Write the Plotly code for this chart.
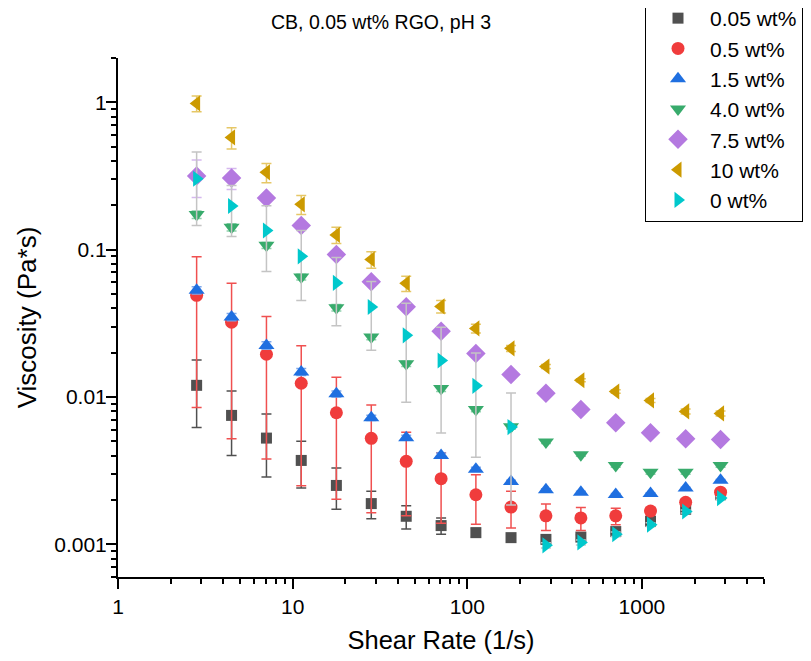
import plotly.graph_objects as go
import numpy as np

shear_rate = [2.82, 4.47, 7.08, 11.2, 17.8, 28.2, 44.7, 70.8, 112, 178, 282, 447, 708, 1120, 1780, 2820]

labels = ["0.05 wt%", "0.5 wt%", "1.5 wt%", "4.0 wt%", "7.5 wt%", "10 wt%", "0 wt%"]

visc_005 = [0.0120, 0.00750, 0.00526, 0.00371, 0.00251, 0.00189, 0.00155, 0.00134, 0.00120, 0.00111, 0.00108, 0.00112, 0.00122, 0.00143, 0.00173, 0.00217]
err_005 = [0.0058, 0.0035, 0.0024, 0.0013, 0.00078, 0.0004, 0.00028, 0.00017, 0.00008, 0.00005, 0.00004, 0.00004, 0.00004, 0.00004, 0.00004, 0.00004]

visc_05 = [0.0490, 0.0322, 0.0195, 0.0124, 0.00782, 0.00524, 0.00366, 0.00279, 0.00217, 0.00179, 0.00156, 0.00151, 0.00156, 0.00168, 0.00193, 0.00226]
err_05 = [0.0405, 0.027, 0.0157, 0.0099, 0.0058, 0.0036, 0.0021, 0.0014, 0.0008, 0.0005, 0.00032, 0.00027, 0.0002, 0.0001, 0.0001, 0.0001]

visc_15 = [0.0530, 0.0349, 0.0224, 0.0148, 0.0105, 0.00723, 0.00529, 0.00401, 0.00323, 0.00267, 0.00235, 0.00226, 0.00218, 0.00221, 0.00241, 0.00272]
err_15 = [0.003, 0.002, 0.0013, 0.0008, 0.0005, 0.0003, 0.0002, 0.00015, 0.0001, 0.00005, 0.00003, 0.00003, 0.00003, 0.00003, 0.00003, 0.00003]

visc_40 = [0.173, 0.142, 0.107, 0.0652, 0.0404, 0.0255, 0.0168, 0.0114, 0.00824, 0.00627, 0.00494, 0.00406, 0.00343, 0.00309, 0.00309, 0.00343]
err_40 = [0.01, 0.008, 0.005, 0.003, 0.002, 0.001, 0.0007, 0.0005, 0.0003, 0.0002, 0.0001, 0.0001, 0.0001, 0.0001, 0.0001, 0.0001]

visc_75 = [0.316, 0.306, 0.224, 0.146, 0.0929, 0.0605, 0.0409, 0.0279, 0.0197, 0.0142, 0.0106, 0.00824, 0.00669, 0.00572, 0.00521, 0.00515]
err_75 = [0.09, 0.05, 0.012, 0.006, 0.004, 0.003, 0.002, 0.001, 0.0007, 0.0004, 0.0002, 0.0001, 0.0001, 0.0001, 0.0001, 0.0001]

visc_10 = [0.984, 0.578, 0.335, 0.203, 0.126, 0.0859, 0.0591, 0.0412, 0.0292, 0.0214, 0.0161, 0.0130, 0.0109, 0.00948, 0.00798, 0.00774]
err_10 = [0.12, 0.095, 0.05, 0.03, 0.016, 0.011, 0.007, 0.004, 0.002, 0.001, 0.0005, 0.0003, 0.0003, 0.0003, 0.0003, 0.0003]

visc_0 = [0.303, 0.198, 0.135, 0.0901, 0.0595, 0.0408, 0.0262, 0.0177, 0.0119, 0.00625, 0.000984, 0.00103, 0.00117, 0.00136, 0.00167, 0.00206]
err_0 = [0.157, 0.075, 0.064, 0.045, 0.029, 0.020, 0.017, 0.012, 0.008, 0.0044, 0.00004, 0.00004, 0.00004, 0.00004, 0.00004, 0.00004]

x_ticks = [1, 10, 100, 1000]
x_ticktext = ["1", "10", "100", "1000"]
y_ticks = [0.001, 0.01, 0.1, 1]
y_ticktext = ["0.001", "0.01", "0.1", "1"]

series = [
    (labels[0], visc_005, err_005, "#505050", "square", "#505050", 11),
    (labels[1], visc_05, err_05, "#f03c3c", "circle", "#f05050", 13),
    (labels[2], visc_15, err_15, "#1f6fe0", "triangle-up", "#7fa8ea", 14),
    (labels[3], visc_40, err_40, "#38ab6c", "triangle-down", "#8fd0ac", 14),
    (labels[4], visc_75, err_75, "#b479e0", "diamond", "#d5b8ee", 15),
    (labels[5], visc_10, err_10, "#cc9a00", "triangle-left", "#e6c766", 14),
    (labels[6], visc_0, err_0, "#00c8cc", "triangle-right", "#c4c4c4", 14),
]

fig = go.Figure()
for i, (name, y, e, col, sym, ecol, sz) in enumerate(series):
    fig.add_trace(go.Scatter(
        x=shear_rate, y=y, name=name, mode="markers",
        marker=dict(symbol=sym, color=col, size=sz, line=dict(width=0)),
        error_y=dict(type="data", array=e, symmetric=True, color=ecol, thickness=1.5, width=5),
    ))

def minor_vals(lo_exp, hi_exp, lo, hi):
    vals = []
    for d in range(lo_exp, hi_exp + 1):
        for m in range(2, 10):
            v = m * 10.0 ** d
            if lo <= v <= hi:
                vals.append(v)
    return vals

x_lo, x_hi = 1, 5000
y_lo, y_hi = 0.0006, 2

W, H = 803, 653  # page body has an 8px margin
ML, MR, MT, MB = 110, 47, 50, 84
PW, PH = W - ML - MR, H - MT - MB

fig.update_layout(
    width=W, height=H,
    paper_bgcolor="white", plot_bgcolor="white",
    margin=dict(l=ML, r=MR, t=MT, b=MB, autoexpand=False),
    font=dict(family="Liberation Sans, Arial, sans-serif", color="black"),
    title=dict(text="CB, 0.05 wt% RGO, pH 3", x=373/W, xref="container", xanchor="center",
               y=1 - 14/H, yref="container", yanchor="middle", font=dict(size=19.5)),
    showlegend=True,
    legend=dict(x=(637 - ML)/PW, y=1 + (MT + 11)/PH, xref="paper", yref="paper",
                xanchor="left", yanchor="top",
                bordercolor="black", borderwidth=1, bgcolor="white",
                font=dict(size=21), tracegroupgap=0, itemwidth=54),
    xaxis=dict(type="log", range=[np.log10(x_lo), np.log10(x_hi)], automargin=False,
               showgrid=False, zeroline=False, showline=True, linecolor="black", linewidth=2,
               ticks="outside", ticklen=10, tickwidth=2, tickcolor="black",
               tickvals=x_ticks, ticktext=x_ticktext, tickfont=dict(size=21),
               minor=dict(ticks="outside", ticklen=5, tickwidth=1.5, tickcolor="black",
                          tickvals=minor_vals(0, 3, x_lo, x_hi), showgrid=False),
               title=dict(text="Shear Rate (1/s)", font=dict(size=25.5), standoff=14)),
    yaxis=dict(type="log", range=[np.log10(y_lo), np.log10(y_hi)], automargin=False,
               showgrid=False, zeroline=False, showline=True, linecolor="black", linewidth=2,
               ticks="outside", ticklen=10, tickwidth=2, tickcolor="black",
               tickvals=y_ticks, ticktext=y_ticktext, tickfont=dict(size=21),
               ticklabelstandoff=-5,
               minor=dict(ticks="outside", ticklen=5, tickwidth=1.5, tickcolor="black",
                          tickvals=minor_vals(-4, 0, y_lo, y_hi), showgrid=False),
               title=dict(text="Viscosity (Pa*s)", font=dict(size=26), standoff=10)),
)

fig.write_html("out.html")
